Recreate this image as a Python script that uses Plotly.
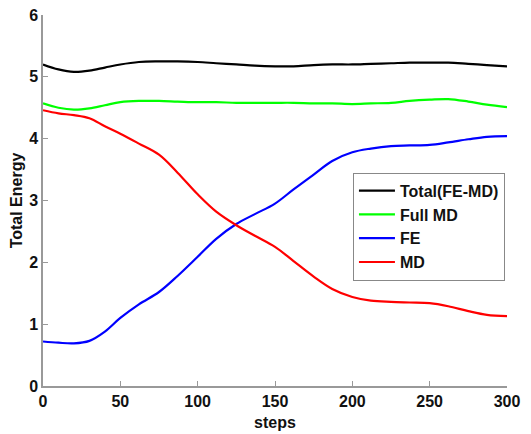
import plotly.graph_objects as go

steps = [0, 10, 20, 30, 40, 50, 62, 75, 87, 100, 112, 125, 137, 150, 162, 175, 187, 200, 212, 225, 237, 250, 262, 275, 287, 300]
total = [5.20, 5.12, 5.08, 5.10, 5.15, 5.20, 5.24, 5.25, 5.25, 5.24, 5.22, 5.20, 5.18, 5.17, 5.17, 5.19, 5.20, 5.20, 5.21, 5.22, 5.23, 5.23, 5.23, 5.21, 5.19, 5.17]
full_md = [4.57, 4.50, 4.47, 4.49, 4.54, 4.59, 4.61, 4.61, 4.60, 4.59, 4.59, 4.58, 4.58, 4.58, 4.58, 4.57, 4.57, 4.56, 4.57, 4.58, 4.61, 4.63, 4.64, 4.60, 4.55, 4.51]
fe = [0.72, 0.70, 0.69, 0.73, 0.88, 1.10, 1.32, 1.52, 1.78, 2.09, 2.38, 2.62, 2.78, 2.95, 3.18, 3.42, 3.64, 3.78, 3.84, 3.88, 3.89, 3.90, 3.94, 3.99, 4.03, 4.04]
md = [4.46, 4.41, 4.38, 4.33, 4.20, 4.08, 3.92, 3.74, 3.45, 3.10, 2.82, 2.60, 2.43, 2.25, 2.02, 1.77, 1.57, 1.44, 1.38, 1.36, 1.35, 1.34, 1.29, 1.21, 1.15, 1.13]

x_ticks = [0, 50, 100, 150, 200, 250, 300]
y_ticks = [0, 1, 2, 3, 4, 5, 6]

names = ["Total(FE-MD)", "Full MD", "FE", "MD"]
colors = ["#000000", "#00ff00", "#0000ff", "#ff0000"]
series = [total, full_md, fe, md]

FAM = "Liberation Sans, Arial, sans-serif"

fig = go.Figure()
for n, c, s in zip(names, colors, series):
    fig.add_trace(go.Scatter(x=steps, y=s, mode="lines", name="<b>" + n + "</b>",
                             line=dict(color=c, width=2.2, shape="spline", smoothing=1.0)))

fig.update_layout(
    width=523, height=426,
    margin=dict(l=35, r=24, t=7, b=48, autoexpand=False),
    paper_bgcolor="white", plot_bgcolor="white",
    font=dict(family=FAM, size=15, color="#111111"),
    showlegend=True,
    legend=dict(x=0.668, y=0.575, xanchor="left", yanchor="top",
                bordercolor="#888888", borderwidth=1, bgcolor="white",
                font=dict(family=FAM, size=16, color="#111111"),
                tracegroupgap=0, itemwidth=36),
    xaxis=dict(range=[0, 300], tickvals=x_ticks, ticktext=["<b>%d</b>" % v for v in x_ticks],
               automargin=False, ticklabeloverflow="allow",
               showgrid=False, zeroline=False, showline=True, linecolor="#999999", linewidth=1.5,
               ticks="inside", ticklen=5, tickcolor="#999999",
               tickfont=dict(family=FAM, size=16, color="#111111"),
               title=dict(text="<b>steps</b>", standoff=8,
                          font=dict(family=FAM, size=16, color="#111111"))),
    yaxis=dict(range=[0, 6], tickvals=y_ticks, ticktext=["<b>%d</b>" % v for v in y_ticks],
               automargin=False, ticklabeloverflow="allow",
               showgrid=False, zeroline=False, showline=True, linecolor="#999999", linewidth=1.5,
               ticks="inside", ticklen=5, tickcolor="#999999",
               tickfont=dict(family=FAM, size=16, color="#111111"),
               title=dict(text="<b>Total Energy</b>", standoff=8,
                          font=dict(family=FAM, size=16, color="#111111"))),
)
fig.write_html("out.html")
